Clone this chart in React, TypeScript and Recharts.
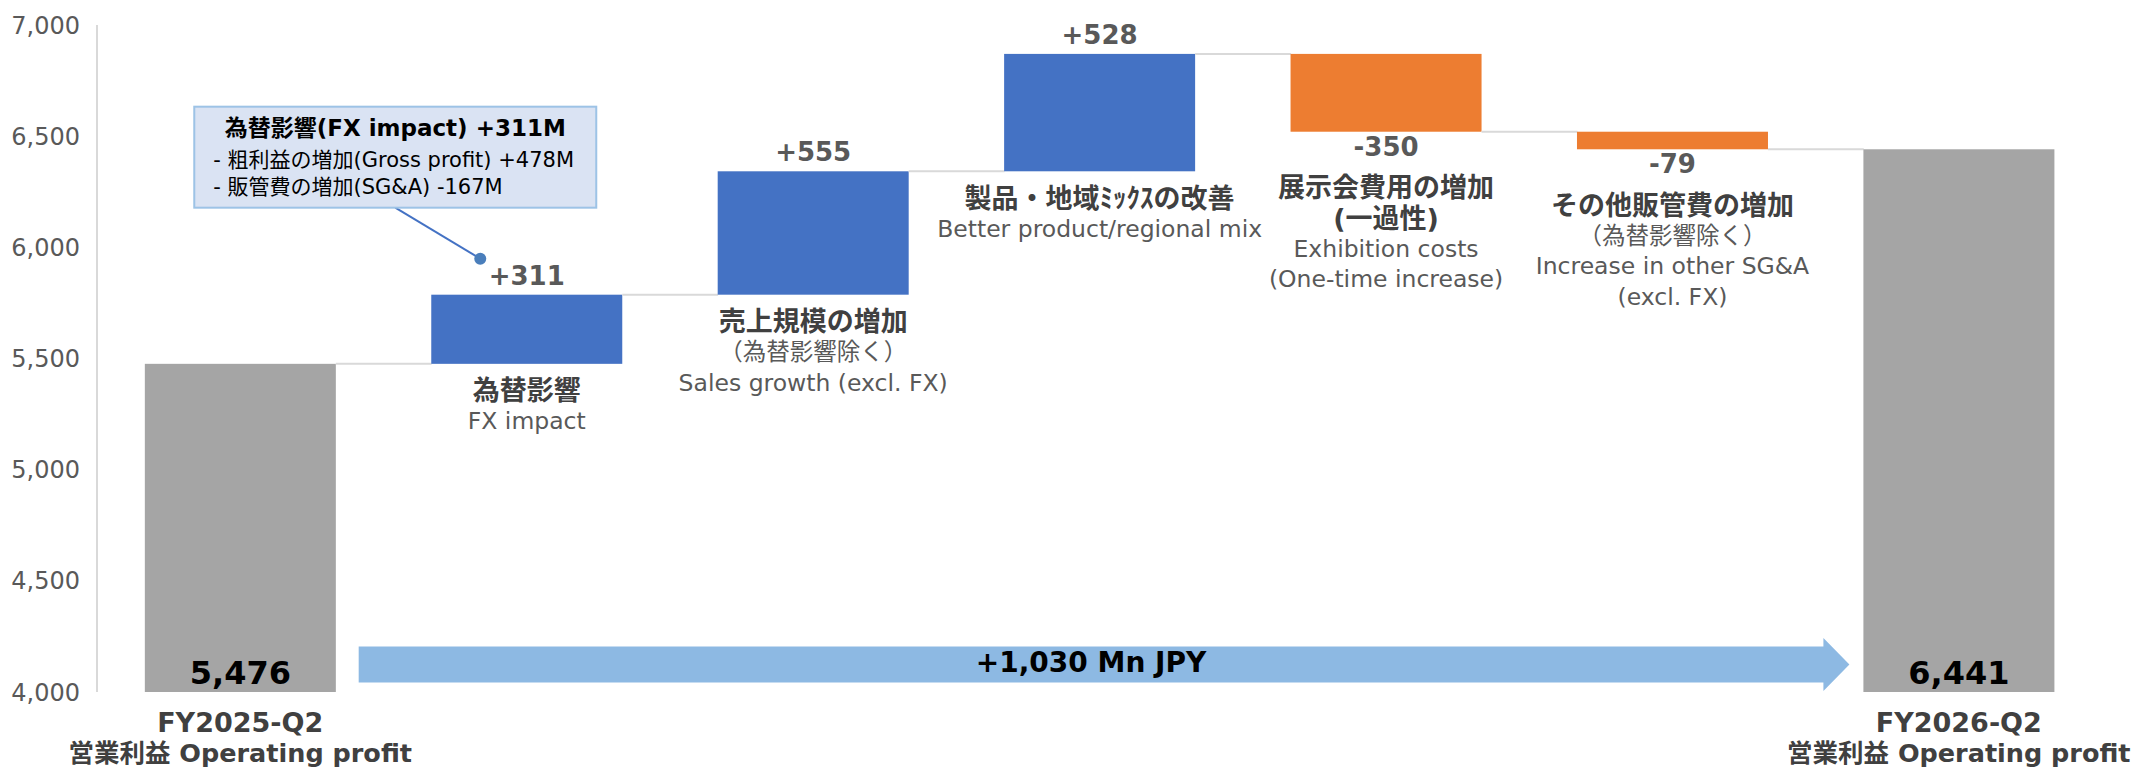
import { BarChart, Bar, XAxis, YAxis, Cell, LabelList } from "recharts";

const FONT = "'DejaVu Sans', 'Noto Sans CJK JP', sans-serif";

// Operating profit bridge, Mn JPY
const AXIS_MIN = 4000;
const AXIS_MAX = 7000;
const yTicks = [4000, 4500, 5000, 5500, 6000, 6500, 7000];

const startValue = 5476;
const endValue = 6441;
const stepDeltas = [311, 555, 528, -350, -79];

const categories = [
  "FY2025-Q2",
  "為替影響",
  "売上規模の増加",
  "製品・地域ﾐｯｸｽの改善",
  "展示会費用の増加",
  "その他販管費の増加",
  "FY2026-Q2",
];

// bold lines under each bar (first one is the category itself)
const categoryTitles: string[][] = [
  ["FY2025-Q2", "営業利益 Operating profit"],
  ["為替影響"],
  ["売上規模の増加"],
  ["製品・地域ﾐｯｸｽの改善"],
  ["展示会費用の増加", "(一過性)"],
  ["その他販管費の増加"],
  ["FY2026-Q2", "営業利益 Operating profit"],
];

// normal weight lines following the titles
const categoryNotes: string[][] = [
  [],
  ["FX impact"],
  ["（為替影響除く）", "Sales growth (excl. FX)"],
  ["Better product/regional mix"],
  ["Exhibition costs", "(One-time increase)"],
  ["（為替影響除く）", "Increase in other SG&A", "(excl. FX)"],
  [],
];

const fxCalloutTitle = "為替影響(FX impact) +311M";
const fxCalloutLines = ["- 粗利益の増加(Gross profit) +478M", "- 販管費の増加(SG&A) -167M"];
const totalChangeLabel = "+1,030 Mn JPY";

const COLORS: Record<string, string> = {
  total: "#a5a5a5",
  up: "#4472c4",
  down: "#ed7d31",
};

const GAP = 0.167; // barCategoryGap per side

type Row = { name: string; range: [number, number]; kind: string; value: number };

const data: Row[] = [];
data.push({ name: categories[0], range: [AXIS_MIN, startValue], kind: "total", value: startValue });
let level = startValue;
stepDeltas.forEach((d, i) => {
  const next = level + d;
  data.push({
    name: categories[i + 1],
    range: [Math.min(level, next), Math.max(level, next)],
    kind: d >= 0 ? "up" : "down",
    value: d,
  });
  level = next;
});
data.push({ name: categories[6], range: [AXIS_MIN, endValue], kind: "total", value: endValue });

const fmt = (v: number) => v.toLocaleString("en-US");
const signed = (v: number) => (v >= 0 ? "+" : "-") + fmt(Math.abs(v));

function box(props: any) {
  const vb = props.viewBox && props.viewBox.width !== undefined ? props.viewBox : props;
  let { x, y, width, height } = vb;
  if (height < 0) {
    y = y + height;
    height = -height;
  }
  return { x, y, width, height };
}

const WaterfallBar = (props: any) => {
  const { x, y, width, height } = box(props);
  const row = data[props.index];
  const band = width / (1 - 2 * GAP);
  const isLast = props.index === data.length - 1;
  const levelY = row.kind === "down" ? y + height : y;
  return (
    <g>
      <rect x={x} y={y} width={width} height={height} fill={props.fill} />
      {!isLast && (
        <line x1={x + width} x2={x + band} y1={levelY} y2={levelY} stroke="#d9d9d9" strokeWidth={2} />
      )}
    </g>
  );
};

const renderLabels = (props: any) => {
  const { x, y, width, height } = box(props);
  const index = props.index;
  const row = data[index];
  const cx = x + width / 2;
  const bottom = y + height;
  const out: any[] = [];

  if (row.kind === "total") {
    out.push(
      <text key="v" x={cx} y={bottom - 19} textAnchor="middle" dominantBaseline="central"
        fontFamily={FONT} fontSize={32} fontWeight="bold" fill="#000">
        {fmt(row.value)}
      </text>
    );
  } else {
    const up = row.kind === "up";
    out.push(
      <text key="v" x={cx} y={up ? y - 19 : bottom + 15} textAnchor="middle" dominantBaseline="central"
        fontFamily={FONT} fontSize={26} fontWeight="bold" fill="#595959">
        {signed(row.value)}
      </text>
    );
    let ly = up ? bottom + 27 : bottom + 56;
    categoryTitles[index].forEach((t, i) => {
      out.push(
        <text key={"t" + i} x={cx} y={ly} textAnchor="middle" dominantBaseline="central"
          fontFamily={FONT} fontSize={27} fontWeight="bold" fill="#404040">
          {t}
        </text>
      );
      ly += 30.5;
    });
    categoryNotes[index].forEach((t, i) => {
      out.push(
        <text key={"n" + i} x={cx} y={ly} textAnchor="middle" dominantBaseline="central"
          fontFamily={FONT} fontSize={23.5} fill="#595959">
          {t}
        </text>
      );
      ly += 30.5;
    });
  }

  // FX callout
  if (index === 1) {
    const bx = x - 237;
    const by = y - 188;
    out.push(
      <g key="callout">
        <line x1={bx + 201} y1={by + 101} x2={x + 49} y2={y - 36} stroke="#4472c4" strokeWidth={2} />
        <circle cx={x + 49} cy={y - 36} r={6} fill="#4a7ebb" />
        <rect x={bx} y={by} width={402} height={101} fill="#dae3f3" stroke="#9dc3e6" strokeWidth={2} />
        <text x={bx + 201} y={by + 21} textAnchor="middle" dominantBaseline="central"
          fontFamily={FONT} fontSize={23} fontWeight="bold" fill="#000">
          {fxCalloutTitle}
        </text>
        {fxCalloutLines.map((t, i) => (
          <text key={i} x={bx + 19} y={by + 53 + i * 27} dominantBaseline="central"
            fontFamily={FONT} fontSize={21} fill="#000">
            {t}
          </text>
        ))}
      </g>
    );
  }

  // overall change arrow from first total to last total
  if (index === data.length - 1) {
    const band = width / (1 - 2 * GAP);
    const sx = x - (data.length - 1) * band + width + 25;
    const tip = x - 14;
    const cy = bottom - 27.5;
    const pts = [
      [sx, cy - 18], [tip - 26, cy - 18], [tip - 26, cy - 26.5], [tip, cy],
      [tip - 26, cy + 26.5], [tip - 26, cy + 18], [sx, cy + 18],
    ].map((p) => p.join(",")).join(" ");
    out.push(
      <g key="arrow">
        <polygon points={pts} fill="#8db9e3" />
        <text x={(sx + tip - 26) / 2} y={cy - 2} textAnchor="middle" dominantBaseline="central"
          fontFamily={FONT} fontSize={28} fontWeight="bold" fill="#000">
          {totalChangeLabel}
        </text>
      </g>
    );
  }

  return <g>{out}</g>;
};

const TotalTick = (props: any) => {
  const { x, y, payload } = props;
  const idx = payload.index ?? categories.indexOf(payload.value);
  if (data[idx]?.kind !== "total") return <g />;
  return (
    <g>
      {categoryTitles[idx].map((t, i) => (
        <text key={i} x={x} y={y + 30 + i * 31} textAnchor="middle" dominantBaseline="central"
          fontFamily={FONT} fontSize={i === 0 ? 27 : 25.5} fontWeight="bold" fill="#404040">
          {t}
        </text>
      ))}
    </g>
  );
};

export default function App() {
  return (
    <div style={{ position: "absolute", left: 0, top: 0, width: 2143, height: 768, background: "#fff" }}>
      <BarChart
        width={2143}
        height={768}
        data={data}
        margin={{ top: 25, right: 41, bottom: 6, left: 7 }}
        barCategoryGap="16.7%"
      >
        <XAxis
          dataKey="name"
          axisLine={false}
          tickLine={false}
          tickSize={0}
          tickMargin={0}
          interval={0}
          height={70}
          tick={<TotalTick />}
        />
        <YAxis
          domain={[AXIS_MIN, AXIS_MAX]}
          ticks={yTicks}
          allowDataOverflow
          width={90}
          tickFormatter={fmt}
          axisLine={{ stroke: "#d9d9d9", strokeWidth: 2 }}
          tickLine={false}
          tickSize={0}
          tickMargin={17}
          tick={{ fill: "#595959", fontSize: 24, fontFamily: FONT }}
        />
        <Bar dataKey="range" shape={WaterfallBar} isAnimationActive={false}>
          {data.map((d, i) => (
            <Cell key={`cell-${i}`} fill={COLORS[d.kind]} />
          ))}
          <LabelList dataKey="range" content={renderLabels} />
        </Bar>
      </BarChart>
    </div>
  );
}
